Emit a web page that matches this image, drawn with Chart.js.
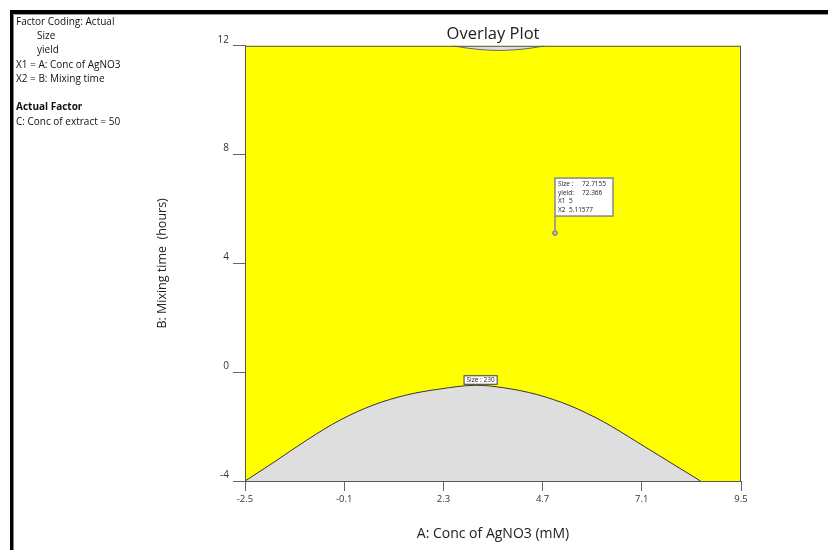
<!DOCTYPE html>
<html>
<head>
<meta charset="utf-8">
<title>Overlay Plot</title>
<script src="https://cdn.jsdelivr.net/npm/chart.js@4.4.1/dist/chart.umd.min.js"></script>
<style>
  body { margin: 0; background: #fff; }
  canvas { display: block; }
</style>
</head>
<body>
<canvas id="overlayPlot" width="828" height="550"></canvas>
<script>
// Size = 230 contour (region below it is out of spec)
const sizeX = [-2.5, -1.8, -1.0, -0.2, 0.6, 1.4, 2.2, 3.1, 3.75, 4.56, 5.36, 6.17, 6.98, 7.78, 8.52];
const sizeY = [-4, -3.31, -2.49, -1.76, -1.21, -0.84, -0.62, -0.48, -0.57, -0.82, -1.23, -1.82, -2.56, -3.31, -4];
// yield contour clipping the top edge
const yieldX = [2.53, 2.9, 3.3, 3.65, 4.0, 4.4, 4.76];
const yieldY = [12, 11.91, 11.85, 11.83, 11.85, 11.91, 12];

const xTicks = [-2.5, -0.1, 2.3, 4.7, 7.1, 9.5];
const yTicks = [-4, 0, 4, 8, 12];

// flagged design point
const flagX = 5;
const flagY = 5.11577;
const flagSize = 72.7155;
const flagYield = 72.366;
const sizeLevel = 230;

const notes = [
  { text: "Factor Coding: Actual", x: 16, y: 22 },
  { text: "Size", x: 37, y: 36 },
  { text: "yield", x: 37, y: 50.5 },
  { text: "X1 = A: Conc of AgNO3", x: 16, y: 65 },
  { text: "X2 = B: Mixing time", x: 16, y: 79.5 },
  { text: "Actual Factor", x: 16, y: 107.5, bold: true },
  { text: "C: Conc of extract = 50", x: 16, y: 122.5 }
];

const FONT = "'Open Sans', 'Noto Sans', sans-serif";
const GREY = "#dedede";

const overlayDecor = {
  id: "overlayDecor",
  beforeDatasetsDraw(chart) {
    const a = chart.chartArea;
    const c = chart.ctx;
    c.save();
    c.fillStyle = "#ffff00";
    c.fillRect(a.left, a.top, a.right - a.left, a.bottom - a.top);
    c.restore();
  },
  afterDatasetsDraw(chart) {
    const a = chart.chartArea;
    const c = chart.ctx;
    const xs = chart.scales.x;
    const ys = chart.scales.y;
    c.save();

    // plot frame
    c.strokeStyle = "#555";
    c.lineWidth = 1;
    c.strokeRect(a.left + 0.5, a.top + 0.5, a.right - a.left - 1, a.bottom - a.top);

    // contour label sitting on top of the Size curve
    const lx = xs.getPixelForValue(3.2);
    const ly = ys.getPixelForValue(-0.48);
    c.font = "6.5px " + FONT;
    c.textBaseline = "middle";
    c.textAlign = "center";
    const lbl = "Size : " + sizeLevel;
    const lw = c.measureText(lbl).width + 6;
    c.fillStyle = "#fff";
    c.fillRect(lx - lw / 2, ly - 10, lw, 9);
    c.strokeStyle = "#333";
    c.strokeRect(lx - lw / 2 + 0.5, ly - 9.5, lw - 1, 8.5);
    c.fillStyle = "#222";
    c.fillText(lbl, lx, ly - 5.5);

    // flag box for the selected point
    const px = xs.getPixelForValue(flagX);
    const py = ys.getPixelForValue(flagY);
    c.strokeStyle = "#888";
    c.lineWidth = 1.5;
    c.beginPath();
    c.moveTo(px, py - 3);
    c.lineTo(px, py - 17);
    c.stroke();
    const bx = px, by = py - 55, bw = 58, bh = 38;
    c.fillStyle = "#fff";
    c.fillRect(bx, by, bw, bh);
    c.strokeRect(bx, by, bw, bh);
    c.fillStyle = "#222";
    c.textAlign = "left";
    c.font = "6.5px " + FONT;
    const rows = [
      ["Size :", String(flagSize)],
      ["yield:", String(flagYield)],
      ["X1", String(flagX)],
      ["X2", String(flagY)]
    ];
    rows.forEach((r, i) => {
      const ty = by + 6 + i * 8.6;
      c.fillText(r[0], bx + 3, ty);
      c.fillText(r[1], bx + (i < 2 ? 27 : 14), ty);
    });

    // design point marker
    c.beginPath();
    c.arc(px, py, 2.3, 0, Math.PI * 2);
    c.fillStyle = "#bbb";
    c.fill();
    c.lineWidth = 1;
    c.strokeStyle = "#666";
    c.stroke();
    c.restore();
  },
  afterDraw(chart) {
    const c = chart.ctx;
    c.save();
    // outer frame lines
    c.fillStyle = "#000";
    c.fillRect(10, 10, 818, 4);
    c.fillRect(10, 10, 3.5, 540);
    c.fillStyle = "#999";
    c.fillRect(13.5, 14, 814.5, 1);

    // factor coding notes
    c.fillStyle = "#111";
    c.textBaseline = "middle";
    c.textAlign = "left";
    notes.forEach(n => {
      c.font = (n.bold ? "bold " : "") + "10px " + FONT;
      c.fillText(n.text, n.x, n.y);
    });
    c.restore();
  }
};

const ctx = document.getElementById("overlayPlot").getContext("2d");

new Chart(ctx, {
  type: "line",
  data: {
    datasets: [
      {
        label: "Size",
        data: sizeX.map((x, i) => ({ x: x, y: sizeY[i] })),
        borderColor: "#333",
        borderWidth: 1,
        backgroundColor: GREY,
        pointRadius: 0,
        fill: "start",
        cubicInterpolationMode: "monotone"
      },
      {
        label: "yield",
        data: yieldX.map((x, i) => ({ x: x, y: yieldY[i] })),
        borderColor: "#666",
        borderWidth: 1,
        backgroundColor: GREY,
        pointRadius: 0,
        fill: "end",
        cubicInterpolationMode: "monotone"
      }
    ]
  },
  options: {
    responsive: false,
    animation: false,
    layout: { padding: { left: 155, right: 87, top: 0, bottom: 0 } },
    plugins: {
      legend: { display: false },
      tooltip: { enabled: false },
      title: {
        display: true,
        text: "Overlay Plot",
        fullSize: false,
        color: "#222",
        font: { family: FONT, size: 16.5, weight: "normal" },
        padding: { top: 24, bottom: 2 }
      }
    },
    scales: {
      x: {
        type: "linear",
        min: -2.5,
        max: 9.5,
        afterBuildTicks: s => { s.ticks = xTicks.map(v => ({ value: v })); },
        afterFit: s => { s.height = 69; },
        grid: { drawOnChartArea: false, tickLength: 10, color: "#666", tickWidth: 1 },
        border: { display: true, color: "#555" },
        ticks: {
          color: "#333",
          padding: 3,
          maxRotation: 0,
          font: { family: FONT, size: 9.5 },
          callback: v => String(v)
        },
        title: {
          display: true,
          text: "A: Conc of AgNO3 (mM)",
          color: "#222",
          font: { family: FONT, size: 14 },
          padding: { top: 0, bottom: 8 }
        }
      },
      y: {
        type: "linear",
        min: -4,
        max: 12,
        afterBuildTicks: s => { s.ticks = yTicks.map(v => ({ value: v })); },
        afterFit: s => { s.width = 90; },
        grid: { drawOnChartArea: false, tickLength: 12, color: "#666", tickWidth: 1 },
        border: { display: true, color: "#555" },
        ticks: {
          color: "#333",
          padding: 4,
          labelOffset: -6,
          font: { family: FONT, size: 10 },
          callback: v => String(v)
        },
        title: {
          display: true,
          text: "B: Mixing time  (hours)",
          color: "#222",
          font: { family: FONT, size: 12.5 },
          padding: { top: 0, bottom: 0 }
        }
      }
    }
  },
  plugins: [overlayDecor]
});
</script>
</body>
</html>
